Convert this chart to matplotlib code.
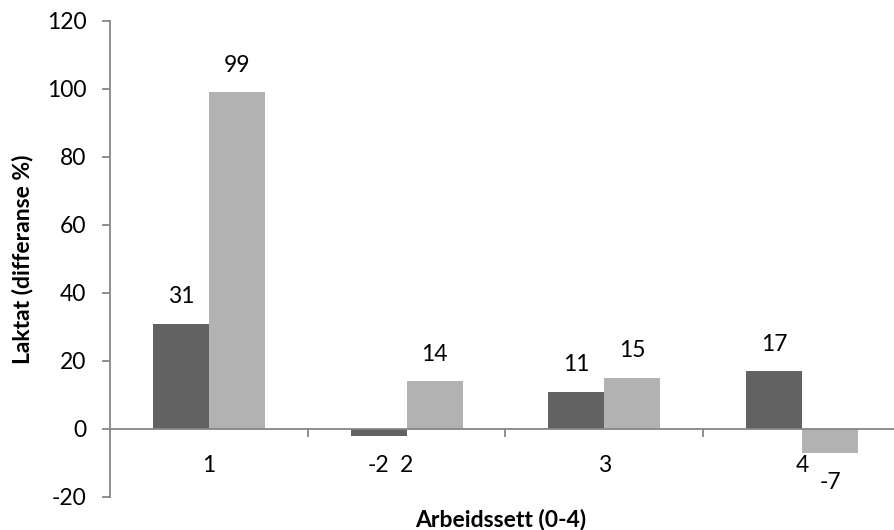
import matplotlib
matplotlib.use("Agg")
import matplotlib.pyplot as plt
import numpy as np

plt.rcParams["font.family"] = ["Lato", "DejaVu Sans"]

categories = ["1", "2", "3", "4"]
series_a = [31, -2, 11, 17]
series_b = [99, 14, 15, -7]
y_ticks = [-20, 0, 20, 40, 60, 80, 100, 120]

dark = "#626262"
light = "#b2b2b2"
axis_grey = "#868686"
fs = 16.5

fig = plt.figure(figsize=(8.94, 5.30), dpi=100)
ax = fig.add_axes([0.1230, 0.0623, 0.8848, 0.8981])

x = np.arange(len(categories))
w = 0.2835
bars_a = ax.bar(x - w / 2, series_a, w, color=dark)
bars_b = ax.bar(x + w / 2, series_b, w, color=light)

# value labels above positive bars, below negative ones
for bars, vals in ((bars_a, series_a), (bars_b, series_b)):
    for b, v in zip(bars, vals):
        cx = b.get_x() + b.get_width() / 2
        off = 27 if v >= 0 else -30
        ax.annotate(str(v), (cx, v), xytext=(0, off), textcoords="offset pixels",
                    ha="center", va="center", fontsize=fs, color="black")

ax.set_xlim(-0.5, len(categories) - 0.5)
ax.set_ylim(-20, 120)
ax.set_yticks(y_ticks)
ax.set_yticklabels([str(t) for t in y_ticks], fontsize=fs)

ax.spines["top"].set_visible(False)
ax.spines["right"].set_visible(False)
ax.spines["bottom"].set_position(("data", 0))
for s in ("left", "bottom"):
    ax.spines[s].set_color(axis_grey)
    ax.spines[s].set_linewidth(1.3)

ax.set_xticks(x)
ax.set_xticklabels(categories, fontsize=fs)
ax.set_xticks(np.arange(len(categories) - 1) + 0.5, minor=True)
ax.tick_params(axis="x", which="major", length=0, pad=19)
ax.tick_params(axis="x", which="minor", length=6, width=1.3, color=axis_grey, direction="out")
ax.tick_params(axis="y", length=6, width=1.3, color=axis_grey, pad=11)

ax.set_xlabel("Arbeidssett (0-4)", fontsize=fs, fontweight="bold", va="center")
ax.xaxis.set_label_coords(0.4945, -0.0483)
ax.set_ylabel("Laktat (differanse %)", fontsize=fs, fontweight="bold", va="center")
ax.yaxis.set_label_coords(-0.111, 0.5)

fig.savefig("out.png", dpi=100)
